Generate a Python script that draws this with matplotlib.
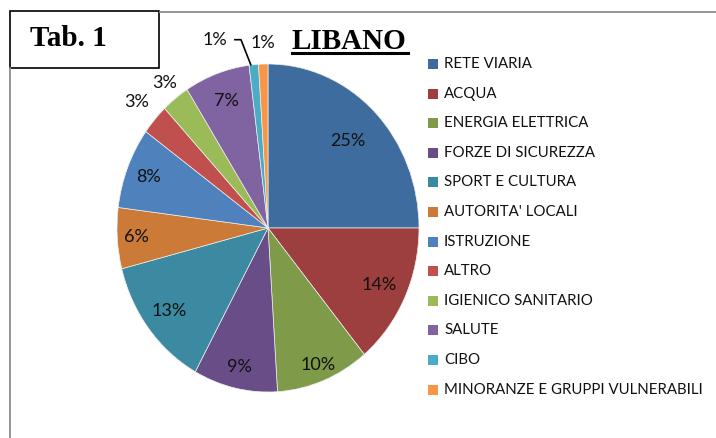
import matplotlib
matplotlib.use("Agg")
import matplotlib.pyplot as plt
import numpy as np
from matplotlib.patches import Rectangle

categories = ["RETE VIARIA", "ACQUA", "ENERGIA ELETTRICA", "FORZE DI SICUREZZA",
              "SPORT E CULTURA", "AUTORITA' LOCALI", "ISTRUZIONE", "ALTRO",
              "IGIENICO SANITARIO", "SALUTE", "CIBO", "MINORANZE E GRUPPI VULNERABILI"]
values = [25, 14, 10, 9, 13, 6, 8, 3, 3, 7, 1, 1]
colors = ["#3F6C9E", "#9C3F3E", "#7F9A48", "#684D86", "#3B8AA1", "#CC7A38",
          "#4F81BD", "#C0504D", "#9BBB59", "#8064A2", "#4BACC6", "#F79646"]
title = "LIBANO"
tab_label = "Tab. 1"

# label placement (style): radius fraction and angular shift per slice
label_r = [0.75, 0.81, 0.90, 0.87, 0.83, 0.87, 0.85, 1.16, 1.12, 0.82, 1.20, 1.13]
label_dang = [0, 0, 0, 0, 0, 0, 0, 0, 0, 0, -11.5, 0]

W, H = 716, 438
fig = plt.figure(figsize=(W / 100, H / 100), dpi=100)

# overlay axes in pixel coordinates
ov = fig.add_axes([0, 0, 1, 1])
ov.set_xlim(0, W)
ov.set_ylim(H, 0)
ov.axis("off")

# frame lines
ov.plot([160, W], [12, 12], color="#8C8C8C", lw=1.3)
ov.plot([10, 10], [68, H], color="#8C8C8C", lw=1.3)
ov.add_patch(Rectangle((10, 11), 149, 57, fill=False, ec="black", lw=1.2))
ov.text(30, 39, tab_label, fontsize=21, fontweight="bold", family="Liberation Serif",
        ha="left", va="center")
ov.text(292, 49, title, fontsize=21, fontweight="bold", family="Liberation Serif",
        ha="left", va="baseline")
ov.plot([292, 408], [53, 53], color="black", lw=2.2)

# pie axes (slightly elliptical like reference)
px0, px1, py0, py1 = 117, 419, 64, 392
pa = fig.add_axes([px0 / W, 1 - py1 / H, (px1 - px0) / W, (py1 - py0) / H])
wedges, _ = pa.pie(values, colors=colors, startangle=90, counterclock=False,
                   radius=1.0, wedgeprops=dict(edgecolor="#EEEEEE", linewidth=0.5))
pa.set_aspect("auto")
pa.set_xlim(-1, 1)
pa.set_ylim(-1, 1)
pa.axis("off")

total = sum(values)
cum = np.cumsum([0] + values[:-1])
for i, v in enumerate(values):
    mid = (cum[i] + v / 2) / total * 360.0
    ang = np.deg2rad(mid + label_dang[i])
    x = label_r[i] * np.sin(ang)
    y = label_r[i] * np.cos(ang)
    pa.text(x, y, f"{v / total * 100:.0f}%", ha="center", va="center",
            fontsize=13, family="Lato", color="#111111", clip_on=False)
    if label_dang[i] != 0:
        m = np.deg2rad(mid)
        ex, ey = 1.0 * np.sin(m), 1.0 * np.cos(m)
        pa.plot([x + 0.13, x + 0.17, ex - 0.02], [y, y, ey], color="black", lw=1.2,
                clip_on=False)

# legend (manual)
for i, (name, c) in enumerate(zip(categories, colors)):
    yy = 64 + i * 29.6
    ov.add_patch(Rectangle((428, yy - 5), 10, 10, facecolor=c, edgecolor="none"))
    ov.text(444, yy, name, fontsize=10.8, family="Lato", ha="left", va="center",
            color="#111111")

fig.savefig("out.png", dpi=100)
